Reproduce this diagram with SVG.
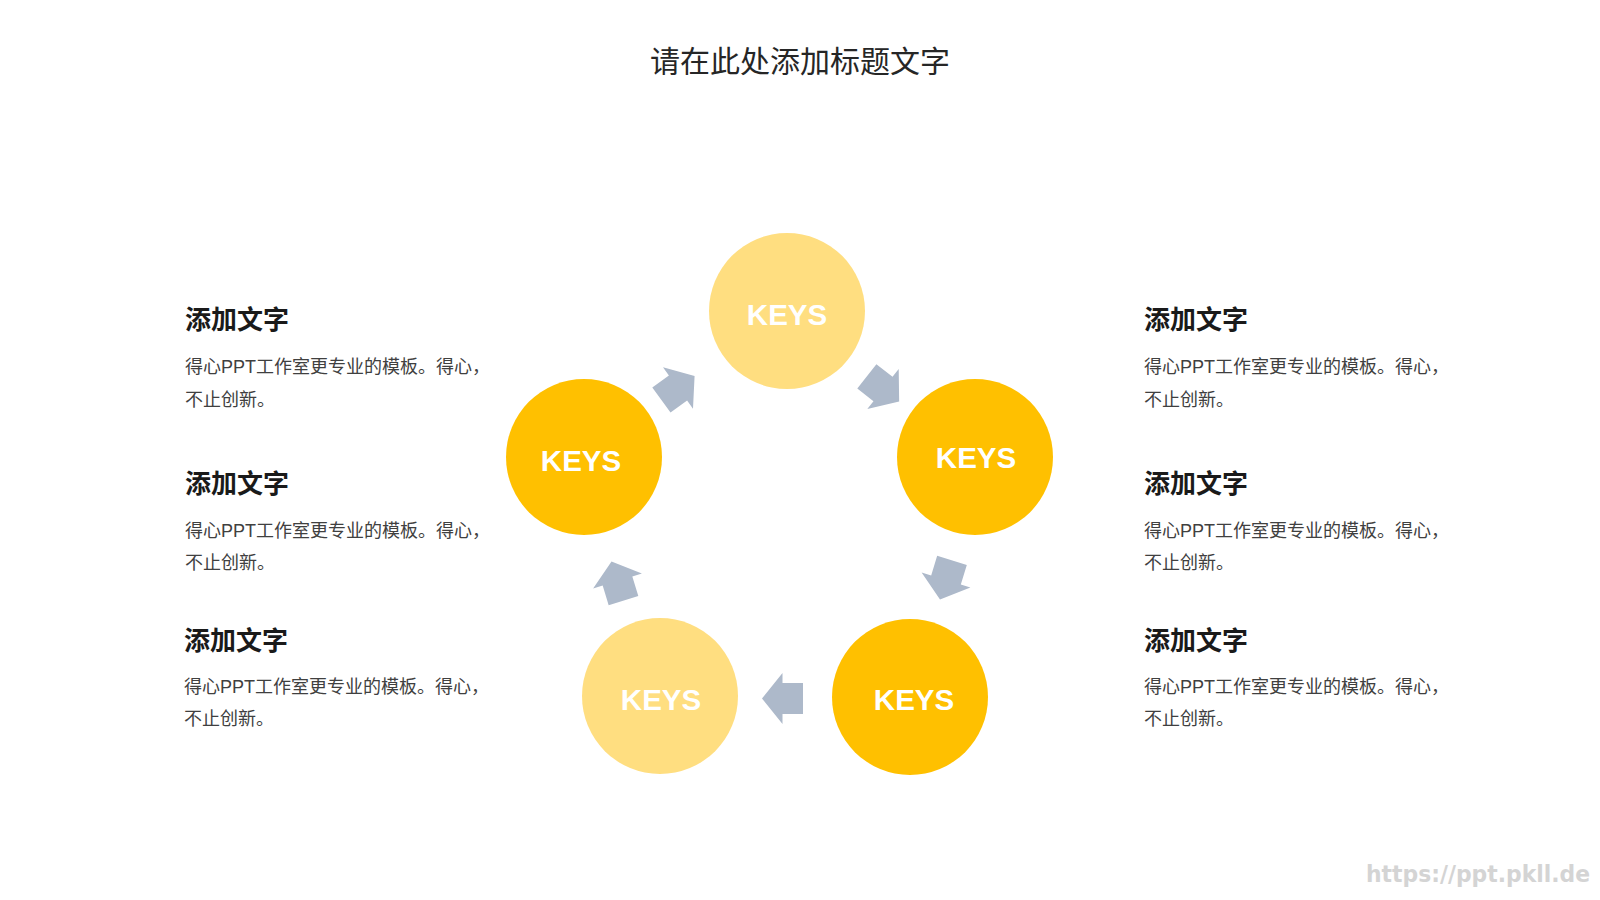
<svg xmlns="http://www.w3.org/2000/svg" width="1600" height="900" viewBox="0 0 1600 900">
<style>
.cjk{font-family:"Liberation Sans","Noto Sans CJK SC",sans-serif;}
.title{font-size:30px;fill:#262626;text-anchor:middle;}
.head{font-size:26px;font-weight:bold;fill:#1a1a1a;}
.body{font-size:18px;fill:#404040;}
.key{font-family:"Liberation Sans",Arial,sans-serif;font-size:29.5px;font-weight:bold;fill:#ffffff;text-anchor:middle;}
.light{fill:#FFDE80;}
.dark{fill:#FFC000;}
.arr{fill:#ADB9CA;}
</style>
<defs>
<path id="blk" d="M-20.5,-15.5 L0,-15.5 L0,-25.5 L20.5,0 L0,25.5 L0,15.5 L-20.5,15.5 Z"/>
</defs>
<rect width="1600" height="900" fill="#ffffff"/>
<text class="cjk title" x="800" y="72">请在此处添加标题文字</text>

<g id="connectors" class="arr">
<use href="#blk" transform="translate(678,388) rotate(-36)"/>
<use href="#blk" transform="translate(883,389) rotate(38)"/>
<use href="#blk" transform="translate(946,580) rotate(107)"/>
<use href="#blk" transform="translate(782.5,698.5) rotate(180)"/>
<use href="#blk" transform="translate(617.5,581) rotate(-107)"/>
</g>

<g id="node-top"><circle class="light" cx="787" cy="311" r="78"/><text class="key" x="787" y="325">KEYS</text></g>
<g id="node-right"><circle class="dark" cx="975" cy="457" r="78"/><text class="key" x="976" y="468">KEYS</text></g>
<g id="node-bottom-right"><circle class="dark" cx="910" cy="697" r="78"/><text class="key" x="914" y="710">KEYS</text></g>
<g id="node-bottom-left"><circle class="light" cx="660" cy="696" r="78"/><text class="key" x="661" y="710">KEYS</text></g>
<g id="node-left"><circle class="dark" cx="584" cy="457" r="78"/><text class="key" x="581" y="471">KEYS</text></g>

<g id="text-left-1" class="cjk">
<text class="head" x="185" y="329">添加文字</text>
<text class="body" x="185" y="373">得心PPT工作室更专业的模板。得心，</text>
<text class="body" x="185" y="406">不止创新。</text>
</g>
<g id="text-left-2" class="cjk">
<text class="head" x="185" y="493">添加文字</text>
<text class="body" x="185" y="537">得心PPT工作室更专业的模板。得心，</text>
<text class="body" x="185" y="569">不止创新。</text>
</g>
<g id="text-left-3" class="cjk">
<text class="head" x="184" y="650">添加文字</text>
<text class="body" x="184" y="693">得心PPT工作室更专业的模板。得心，</text>
<text class="body" x="184" y="725">不止创新。</text>
</g>
<g id="text-right-1" class="cjk">
<text class="head" x="1144" y="329">添加文字</text>
<text class="body" x="1144" y="373">得心PPT工作室更专业的模板。得心，</text>
<text class="body" x="1144" y="406">不止创新。</text>
</g>
<g id="text-right-2" class="cjk">
<text class="head" x="1144" y="493">添加文字</text>
<text class="body" x="1144" y="537">得心PPT工作室更专业的模板。得心，</text>
<text class="body" x="1144" y="569">不止创新。</text>
</g>
<g id="text-right-3" class="cjk">
<text class="head" x="1144" y="650">添加文字</text>
<text class="body" x="1144" y="693">得心PPT工作室更专业的模板。得心，</text>
<text class="body" x="1144" y="725">不止创新。</text>
</g>

<text x="1366" y="882" font-family="'DejaVu Sans',sans-serif" font-size="23" font-weight="bold" fill="#d4d4d4" textLength="224" lengthAdjust="spacingAndGlyphs">https://ppt.pkll.de</text>
</svg>
